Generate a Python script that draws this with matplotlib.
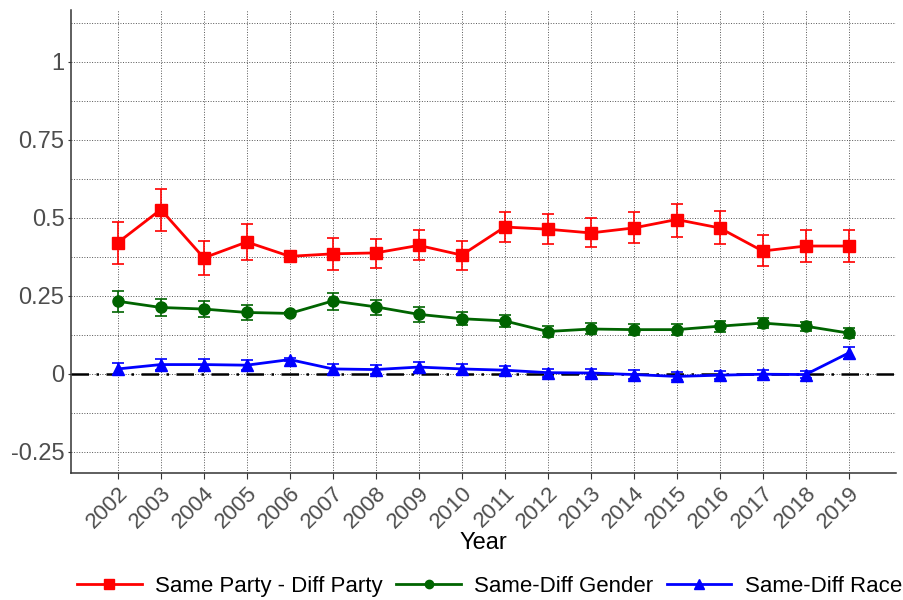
import numpy as np
import matplotlib
matplotlib.use("Agg")
import matplotlib.pyplot as plt
import matplotlib.transforms as mtrans
from matplotlib.lines import Line2D
from matplotlib.ticker import MultipleLocator

plt.rcParams["font.family"] = ["Liberation Sans", "DejaVu Sans"]

# Datos
years = list(range(2002, 2020))

party = [0.420, 0.526, 0.371, 0.422, 0.376, 0.384, 0.387, 0.411, 0.380,
         0.470, 0.463, 0.451, 0.467, 0.494, 0.467, 0.393, 0.409, 0.409]
party_lo = [0.350, 0.458, 0.317, 0.365, 0.371, 0.333, 0.339, 0.365, 0.333,
            0.423, 0.417, 0.405, 0.419, 0.439, 0.415, 0.346, 0.358, 0.358]
party_hi = [0.487, 0.593, 0.424, 0.480, 0.381, 0.434, 0.432, 0.460, 0.425,
            0.518, 0.511, 0.498, 0.517, 0.544, 0.520, 0.443, 0.459, 0.459]

gender = [0.232, 0.212, 0.207, 0.196, 0.193, 0.233, 0.214, 0.190, 0.176,
          0.169, 0.135, 0.143, 0.141, 0.141, 0.152, 0.162, 0.152, 0.130]
gender_lo = [0.198, 0.184, 0.183, 0.171, 0.189, 0.205, 0.188, 0.167, 0.155,
             0.149, 0.116, 0.126, 0.124, 0.124, 0.134, 0.145, 0.137, 0.113]
gender_hi = [0.264, 0.240, 0.232, 0.220, 0.197, 0.259, 0.237, 0.214, 0.197,
             0.188, 0.152, 0.161, 0.158, 0.158, 0.169, 0.179, 0.167, 0.146]

race = [0.015, 0.029, 0.029, 0.027, 0.045, 0.015, 0.013, 0.021, 0.015,
        0.011, 0.003, 0.002, -0.003, -0.009, -0.005, -0.002, -0.003, 0.066]
race_err = [0.018, 0.018, 0.018, 0.017, 0.004, 0.015, 0.015, 0.016, 0.015,
            0.014, 0.013, 0.013, 0.013, 0.013, 0.013, 0.013, 0.012, 0.018]

y_ticks = [-0.25, 0, 0.25, 0.5, 0.75, 1]
y_labels = ["-0.25", "0", "0.25", "0.5", "0.75", "1"]

# Figura
fig = plt.figure(figsize=(9.04, 6.0), dpi=100)
ax = fig.add_axes([0.079, 0.212, 0.912, 0.772])

ax.axhline(0, color="black", lw=1.8, ls=(0, (7, 3, 1, 3)), zorder=2)

handles = []
series = [
    ("Same Party - Diff Party", party, party_lo, party_hi, "#ff0000", "s", 9, 6.5),
    ("Same-Diff Gender", gender, gender_lo, gender_hi, "#006400", "o", 8, 6),
]
for label, y, lo, hi, col, mk, ms, lms in series:
    y = np.array(y)
    err = [y - np.array(lo), np.array(hi) - y]
    ax.errorbar(years, y, yerr=err, color=col, marker=mk, ms=ms, lw=2,
                elinewidth=1.2, capsize=4, capthick=1.2, zorder=3)
    handles.append(Line2D([], [], color=col, marker=mk, ms=lms, lw=2, label=label))

ax.errorbar(years, race, yerr=race_err, color="#0000ff", marker="^", ms=9, lw=2,
            elinewidth=1.2, capsize=4, capthick=1.2, zorder=3)
handles.append(Line2D([], [], color="#0000ff", marker="^", ms=7, lw=2, label="Same-Diff Race"))

ax.set_xlim(2000.92, 2020.1)
ax.set_ylim(-0.318, 1.167)
ax.set_xticks(years)
ax.set_xticklabels([str(y) for y in years], rotation=45, ha="right",
                   rotation_mode="anchor", fontsize=16, color="#4d4d4d")
shift = mtrans.ScaledTranslation(6 / 100, 2 / 100, fig.dpi_scale_trans)
for lab in ax.get_xticklabels():
    lab.set_transform(lab.get_transform() + shift)
ax.set_yticks(y_ticks)
ax.set_yticklabels(y_labels, fontsize=17, color="#4d4d4d")
ax.yaxis.set_minor_locator(MultipleLocator(0.125))

ax.grid(True, which="both", axis="y", color="#555555", ls=":", lw=0.7)
ax.grid(True, which="major", axis="x", color="#555555", ls=":", lw=0.7)
ax.tick_params(which="minor", length=0)
ax.tick_params(axis="x", which="major", length=4, color="#333333", pad=3)
ax.tick_params(axis="y", which="major", length=2, color="#333333", pad=3)

for s in ["top", "right"]:
    ax.spines[s].set_visible(False)
for s in ["left", "bottom"]:
    ax.spines[s].set_color("#333333")
    ax.spines[s].set_linewidth(1.1)

ax.set_xlabel("Year", fontsize=17, labelpad=0)

fig.legend(handles=handles, loc="center", bbox_to_anchor=(0.5415, 0.023), ncol=3,
           frameon=False, fontsize=16, handlelength=2.9, columnspacing=0.63,
           handletextpad=0.59, borderpad=0, borderaxespad=0)

fig.savefig("out.png", dpi=100)
